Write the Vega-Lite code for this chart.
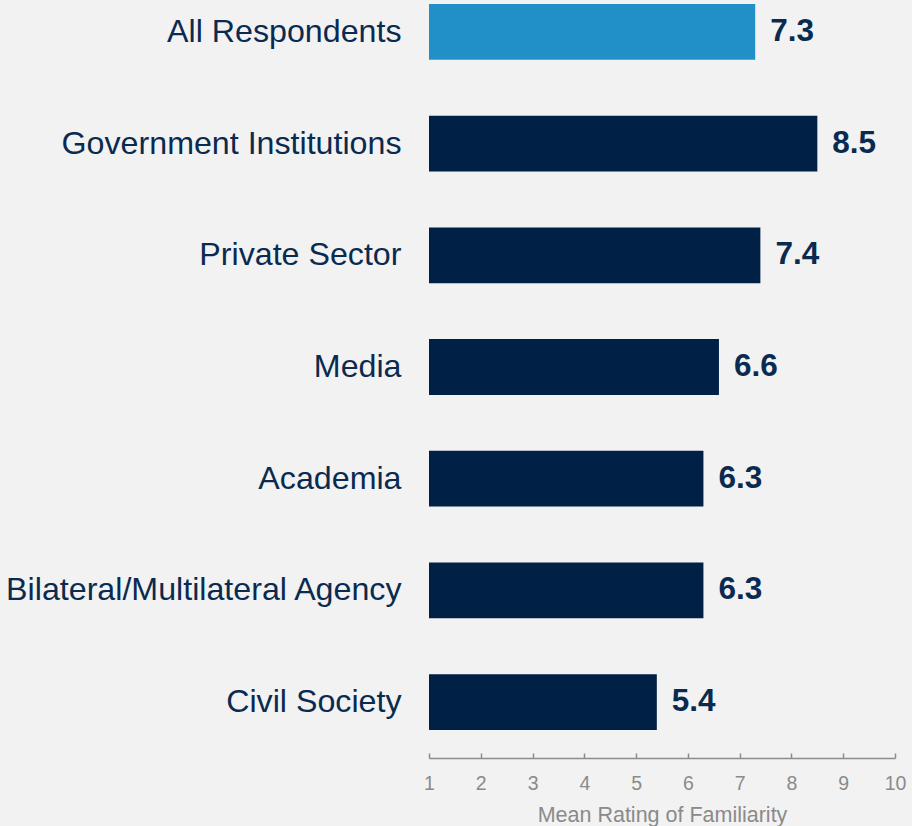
{
  "$schema": "https://vega.github.io/schema/vega-lite/v6.json",
  "width": 466,
  "height": 758,
  "autosize": {"type": "none"},
  "padding": {"left": 429, "top": 0, "right": 17, "bottom": 68},
  "background": "#F2F2F2",
  "config": {
    "view": {"stroke": null},
    "font": "Liberation Sans"
  },
  "data": {
    "values": [
      {"group": "All Respondents", "value": 7.3, "highlight": "yes"},
      {"group": "Government Institutions", "value": 8.5, "highlight": "no"},
      {"group": "Private Sector", "value": 7.4, "highlight": "no"},
      {"group": "Media", "value": 6.6, "highlight": "no"},
      {"group": "Academia", "value": 6.3, "highlight": "no"},
      {"group": "Bilateral/Multilateral Agency", "value": 6.3, "highlight": "no"},
      {"group": "Civil Society", "value": 5.4, "highlight": "no"}
    ]
  },
  "encoding": {
    "y": {
      "field": "group",
      "type": "nominal",
      "sort": null,
      "scale": {"paddingInner": 0.5, "paddingOuter": 0.1432, "align": 0.125},
      "axis": {
        "title": null,
        "domain": false,
        "ticks": false,
        "tickSize": 0,
        "labelPadding": 28,
        "labelFontSize": 32.2,
        "labelColor": "#0B2A4F",
        "labelFont": "Liberation Sans",
        "labelLimit": 500
      }
    }
  },
  "layer": [
    {
      "mark": {"type": "bar"},
      "encoding": {
        "x": {
          "field": "value",
          "type": "quantitative",
          "scale": {"domain": [1, 10], "nice": false, "zero": false},
          "axis": {
            "title": "Mean Rating of Familiarity",
            "values": [1, 2, 3, 4, 5, 6, 7, 8, 9, 10],
            "grid": false,
            "domainColor": "#8C8C8C",
            "domainWidth": 1.5,
            "tickColor": "#8C8C8C",
            "tickWidth": 1.5,
            "tickSize": -5,
            "labelFlush": false,
            "labelPadding": 21,
            "labelFontSize": 19.5,
            "labelColor": "#8A8A8A",
            "labelFont": "Liberation Sans",
            "labelBaseline": "top",
            "titleFont": "Liberation Sans",
            "titleFontSize": 21.5,
            "titleFontWeight": "normal",
            "titleColor": "#8A8A8A",
            "titlePadding": 12
          }
        },
        "x2": {"datum": 1},
        "color": {
          "field": "highlight",
          "type": "nominal",
          "scale": {"domain": ["yes", "no"], "range": ["#2190C8", "#002145"]},
          "legend": null
        }
      }
    },
    {
      "mark": {
        "type": "text",
        "align": "left",
        "baseline": "middle",
        "dx": 15,
        "fontSize": 31.5,
        "fontWeight": "bold",
        "color": "#0B2A4F",
        "font": "Liberation Sans"
      },
      "encoding": {
        "x": {"field": "value", "type": "quantitative"},
        "text": {"field": "value", "type": "quantitative", "format": ".1f"}
      }
    }
  ]
}
